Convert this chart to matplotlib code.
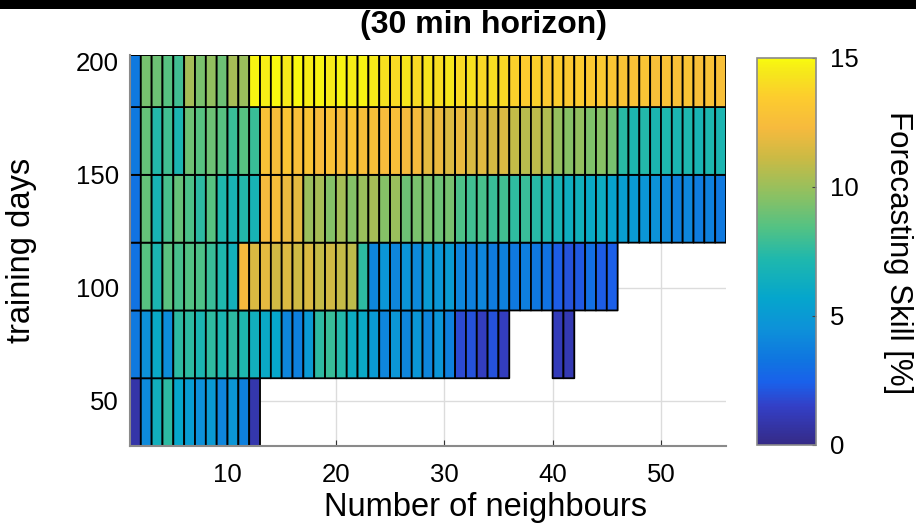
import numpy as np
import matplotlib
matplotlib.use("Agg")
import matplotlib.pyplot as plt
from matplotlib.colors import LinearSegmentedColormap
from matplotlib.patches import Rectangle

plt.rcParams['font.family'] = ['Liberation Sans', 'DejaVu Sans']

nan = np.nan

# number of neighbours (cell edges) and training days (row edges)
neighbours = np.arange(1, 57)
training_days = [30, 60, 90, 120, 150, 180, 203]

# forecasting skill [%], one row per training-days band, 55 cells each
skill_30 = [0.8, 4.2, 6.5, 7.5, 5.8, 5.2, 4.5, 5.0, 4.0, 4.8, 3.8, 0.9] + [nan] * 43
skill_60 = ([3.5, 4.5, 6.0, 4.3, 7.5, 7.5, 7.0, 7.6, 7.0, 7.5, 7.2, 6.5, 6.0, 5.8, 4.0,
             3.8, 5.0, 7.5, 7.8, 7.3, 6.2, 6.0, 5.0, 4.0, 4.8, 4.0, 4.8, 4.0, 4.7, 3.8,
             1.8, 2.0, 1.3, 2.0, 1.3]
            + [nan] * 4 + [1.2, 1.0] + [nan] * 14)
skill_90 = ([3.2, 8.5, 7.0, 8.6, 8.2, 8.4, 8.3, 7.8, 7.2, 6.6,
             12.3, 11.5, 11.8, 11.3, 11.6, 11.2, 11.5, 11.0, 11.3, 11.0, 10.8,
             7.5, 4.0, 4.8, 4.0, 4.7, 4.2,
             5.0, 4.8, 5.0, 4.0, 3.8, 4.0, 3.6, 3.8, 3.5, 3.7, 3.4, 3.2, 2.3, 2.0,
             2.2, 3.0, 2.3, 2.4]
            + [nan] * 10)
skill_120 = [3.2, 8.8, 6.8, 8.2, 8.8, 8.3, 7.5, 8.5, 7.2, 6.8, 7.3, 6.8,
             12.2, 12.5, 12.0, 11.8,
             10.0, 10.3, 9.5, 10.2, 9.5, 10.0, 10.3, 9.5, 10.0, 9.0, 9.3,
             9.3, 9.0, 9.2, 8.3, 8.0, 8.2, 7.8, 8.0, 7.6, 7.8, 7.4, 7.2,
             6.8, 6.3, 6.5, 6.0, 6.2, 5.5, 5.2, 5.0, 4.8, 4.6,
             4.2, 3.8, 4.0, 3.6, 3.8, 3.5]
skill_150 = [3.5, 8.8, 7.3, 8.0, 7.0, 9.0, 8.5, 9.0, 8.5, 7.8, 8.5, 7.8,
             12.8, 12.5, 13.0, 12.6, 12.9, 12.4, 12.8, 12.5, 12.9, 12.6, 12.7, 12.4,
             12.6, 12.2, 12.3,
             11.8, 12.0, 11.6, 11.9, 11.5, 11.7, 11.4, 11.6,
             10.9, 10.7, 10.8, 10.5, 9.9, 9.6, 9.8, 9.4, 9.6, 9.2,
             7.4, 7.1, 7.3, 7.0, 7.2, 7.0, 7.2, 6.9, 7.1, 7.0]
skill_180 = [3.5, 9.2, 9.0, 8.5, 8.0, 10.2, 9.3, 9.8, 9.0, 10.3, 10.0,
             14.8, 14.6, 14.9, 14.5, 14.9, 14.6, 14.8, 14.5, 14.8, 14.6, 14.8, 14.5,
             14.2, 14.0, 14.4, 14.0, 14.3, 14.1, 14.4, 14.0, 14.2, 13.9, 14.1, 13.9,
             13.6, 13.4, 13.6, 13.3, 13.5, 13.2, 13.4, 13.2, 13.3, 13.1,
             12.9, 12.8, 12.9, 12.6, 12.8, 12.7, 12.9, 12.6, 12.8, 12.7]

Z = np.ma.masked_invalid(np.array([skill_30, skill_60, skill_90,
                                   skill_120, skill_150, skill_180]))

# rough parula
parula = LinearSegmentedColormap.from_list('parula', [
    (0.00, (0.208, 0.166, 0.529)),
    (0.10, (0.200, 0.250, 0.780)),
    (0.16, (0.100, 0.380, 0.920)),
    (0.22, (0.060, 0.460, 0.880)),
    (0.30, (0.050, 0.570, 0.850)),
    (0.38, (0.020, 0.650, 0.800)),
    (0.48, (0.120, 0.720, 0.680)),
    (0.56, (0.320, 0.760, 0.520)),
    (0.65, (0.560, 0.755, 0.380)),
    (0.74, (0.790, 0.730, 0.270)),
    (0.82, (0.965, 0.730, 0.240)),
    (0.90, (0.990, 0.800, 0.180)),
    (0.96, (0.965, 0.900, 0.110)),
    (1.00, (0.976, 0.983, 0.054)),
])

fig = plt.figure(figsize=(9.16, 5.31), dpi=100)
ax = fig.add_axes([0.1419, 0.160, 0.6507, 0.7363])

# pcolor leaves masked cells out entirely (no edges either)
mesh = ax.pcolor(neighbours, training_days, Z, cmap=parula, vmin=0, vmax=15,
                 edgecolors='k', linewidth=1.3)

ax.set_xlim(1, 56)
ax.set_ylim(30, 203)
ax.set_xticks([10, 20, 30, 40, 50])
ax.set_yticks([50, 100, 150, 200])
ax.set_axisbelow(True)
ax.grid(True, color='#dcdcdc', linewidth=1.0)
ax.tick_params(direction='in', length=4, labelsize=18.5, colors='#333333',
               labelcolor='black')
ax.tick_params(axis='x', pad=12)
ax.tick_params(axis='y', pad=8)
for s in ['top', 'right']:
    ax.spines[s].set_visible(False)
for s in ['left', 'bottom']:
    ax.spines[s].set_color('#8a8a8a')
    ax.spines[s].set_linewidth(1.5)

ax.set_xlabel('Number of neighbours', fontsize=23.5)
ax.xaxis.set_label_coords((485 - 130) / 596, -0.118)
fig.text(22 / 916, 1 - 250 / 531, 'training days', fontsize=23.5,
         rotation=90, ha='center', va='center')
fig.text(484 / 916, 1 - 25 / 531, '(30 min horizon)', fontsize=23,
         fontweight='bold', ha='center', va='center')

cax = fig.add_axes([0.8264, 0.162, 0.0644, 0.729])
cb = fig.colorbar(mesh, cax=cax, ticks=[0, 5, 10, 15])
cb.outline.set_edgecolor('#8a8a8a')
cb.outline.set_linewidth(1.2)
cax.tick_params(direction='in', length=3, labelsize=18.5, pad=10, colors='#444444',
                labelcolor='black')
fig.text(898 / 916, 1 - 253 / 531, 'Forecasting Skill [%]', fontsize=22.5,
         rotation=270, ha='center', va='center')

# black strip along the top edge
fig.patches.append(Rectangle((0, 1 - 9 / 531), 1, 9 / 531, transform=fig.transFigure,
                             facecolor='black', edgecolor='none', zorder=-1))

fig.savefig('out.png', dpi=100)
